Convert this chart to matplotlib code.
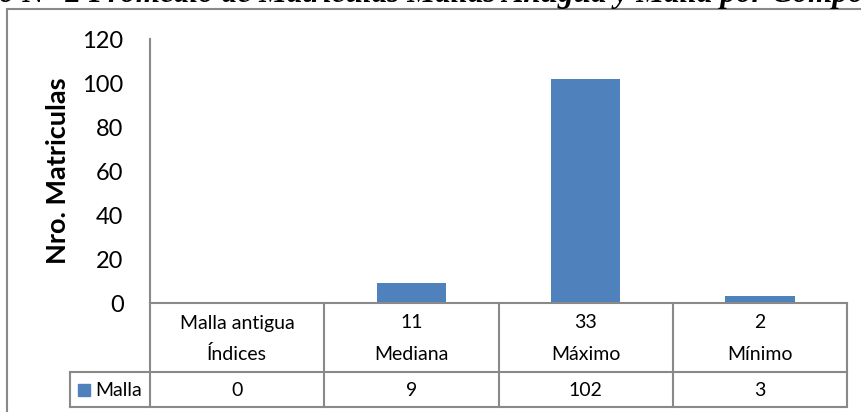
import matplotlib.pyplot as plt
from matplotlib.patches import Rectangle

# datos
serie = 'Malla'
valores = [0, 9, 102, 3]
nivel_sup = ['Malla antigua', '11', '33', '2']
nivel_inf = ['Índices', 'Mediana', 'Máximo', 'Mínimo']
titulo = 'o N° 2 Promedio de Matrículas Mallas Antigua y Malla por Compo'

azul = '#4F81BD'
gris = '#898989'
plt.rcParams['font.family'] = ['Lato', 'DejaVu Sans']

W, H = 861, 412
fig = plt.figure(figsize=(W / 100, H / 100), dpi=100)

# marco del grafico
fig.patches.append(Rectangle((7 / W, -0.1), 1.0, (H - 9) / H + 0.1, transform=fig.transFigure,
                             fill=False, edgecolor=gris, linewidth=1.5))
# titulo cortado arriba
fig.text(-1 / W, 1 - 2 / H, titulo, ha='left', va='baseline', fontsize=22.5,
         family='Liberation Serif', style='italic', weight='bold')

ax = fig.add_axes([150 / W, 109 / H, 697 / W, 264 / H])
x = range(len(valores))
ax.bar(x, valores, width=0.4, color=azul)
ax.set_xlim(-0.5, len(valores) - 0.5)
ax.set_ylim(0, 120)
ax.set_yticks(range(0, 121, 20))
ax.tick_params(axis='y', length=0, pad=19, labelsize=17)
ax.set_xticks([])
for s in ['top', 'right']:
    ax.spines[s].set_visible(False)
for s in ['left', 'bottom']:
    ax.spines[s].set_color(gris)
    ax.spines[s].set_linewidth(1.5)
ax.set_ylabel('Nro. Matriculas', fontsize=19.5, weight='bold')
ax.yaxis.set_label_coords(-0.115, 0.5)

# tabla de datos
tr = ax.get_xaxis_transform()
y_mid, y_bot = (303 - 372) / 264, (303 - 407) / 264
x_leg = -0.5 - 80 / 174.25
n = len(valores)
kw = dict(transform=tr, clip_on=False, color=gris, lw=1.5)
for i in range(n + 1):
    ax.plot([i - 0.5, i - 0.5], [0, y_bot], **kw)
ax.plot([x_leg, x_leg], [y_mid, y_bot], **kw)
ax.plot([x_leg, n - 0.5], [y_mid, y_mid], **kw)
ax.plot([x_leg, n - 0.5], [y_bot, y_bot], **kw)

tk = dict(transform=tr, ha='center', va='center', fontsize=14, clip_on=False)
for i in x:
    ax.text(i, (303 - 323) / 264, nivel_sup[i], **tk)
    ax.text(i, (303 - 354) / 264, nivel_inf[i], **tk)
    ax.text(i, (303 - 390) / 264, str(valores[i]), **tk)

ax.add_patch(Rectangle((x_leg + 8 / 174.25, (303 - 396) / 264), 12 / 174.25, 12 / 264,
                       transform=tr, color=azul, clip_on=False))
ax.text(x_leg + 25 / 174.25, (303 - 390) / 264, serie, transform=tr, ha='left',
        va='center', fontsize=14, clip_on=False)

fig.savefig('out.png', dpi=100)
